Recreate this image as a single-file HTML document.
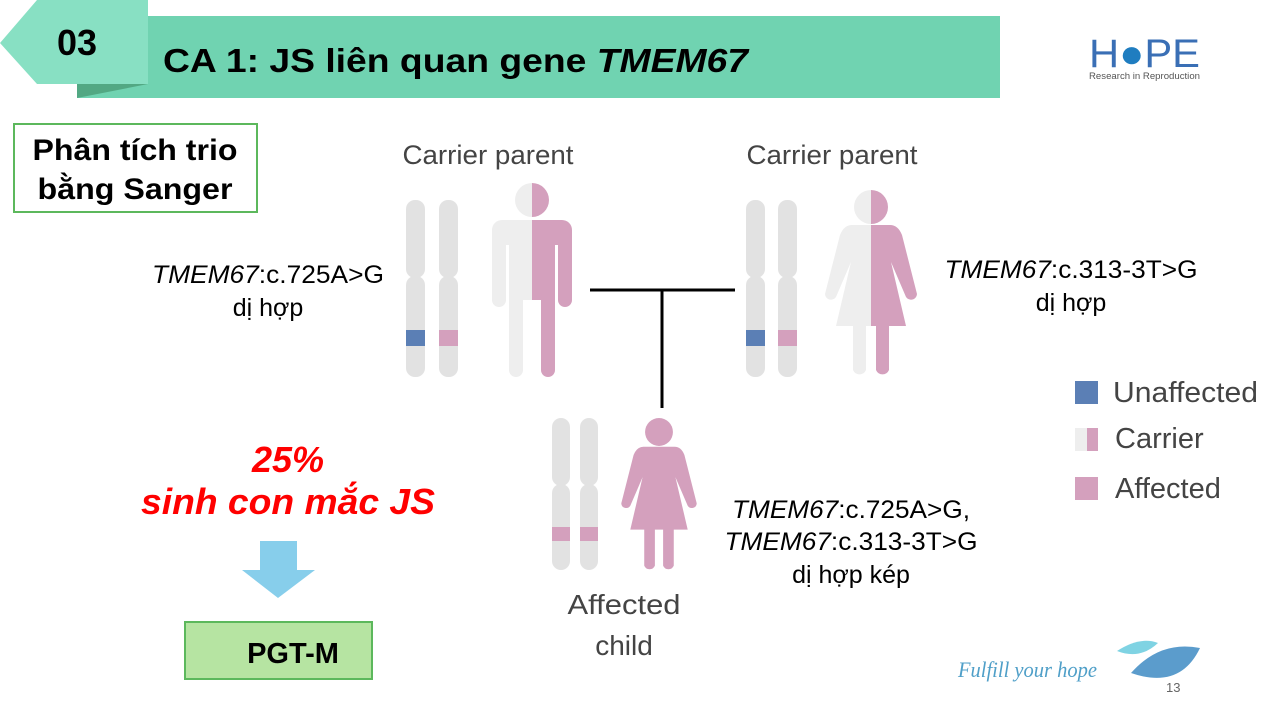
<!DOCTYPE html>
<html><head><meta charset="utf-8"><style>
body{margin:0;width:1280px;height:720px;overflow:hidden;background:#fff;font-family:"Liberation Sans",sans-serif}
svg{position:absolute;left:0;top:0}
</style></head><body>
<svg width="1280" height="720" viewBox="0 0 1280 720" font-family="Liberation Sans, sans-serif">
<rect x="77" y="16" width="923" height="82" fill="#70d3b1"/>
<polygon points="77,84 148,84 77,98" fill="#52a883"/>
<polygon points="0,43 37,0 148,0 148,84 37,84" fill="#88e0c3"/>
<text x="57" y="55" font-size="36" font-weight="bold">03</text>
<text x="163" y="72" font-size="33" font-weight="bold" textLength="585" lengthAdjust="spacingAndGlyphs">CA 1: JS liên quan gene <tspan font-style="italic">TMEM67</tspan></text>
<text x="1089" y="67" font-size="40" fill="#3a6fb5" textLength="111" lengthAdjust="spacingAndGlyphs">H<tspan fill="#1f7dc0">●</tspan>PE</text>
<text x="1089" y="79" font-size="9" fill="#555" textLength="111" lengthAdjust="spacingAndGlyphs">Research in Reproduction</text>

<rect x="14" y="124" width="243" height="88" fill="#fff" stroke="#5cb85c" stroke-width="2"/>
<text x="135" y="160" font-size="30" font-weight="bold" text-anchor="middle" textLength="205" lengthAdjust="spacingAndGlyphs">Phân tích trio</text>
<text x="135" y="199" font-size="30" font-weight="bold" text-anchor="middle" textLength="195" lengthAdjust="spacingAndGlyphs">bằng Sanger</text>

<text x="488" y="164" font-size="27" fill="#444" text-anchor="middle" textLength="171" lengthAdjust="spacingAndGlyphs">Carrier parent</text>
<text x="832" y="164" font-size="27" fill="#444" text-anchor="middle" textLength="171" lengthAdjust="spacingAndGlyphs">Carrier parent</text>

<g fill="#e2e2e2">
<rect x="406" y="200" width="19" height="78" rx="9"/><rect x="406" y="276" width="19" height="101" rx="9"/>
<rect x="439" y="200" width="19" height="78" rx="9"/><rect x="439" y="276" width="19" height="101" rx="9"/>
<rect x="746" y="200" width="19" height="78" rx="9"/><rect x="746" y="276" width="19" height="101" rx="9"/>
<rect x="778" y="200" width="19" height="78" rx="9"/><rect x="778" y="276" width="19" height="101" rx="9"/>
<rect x="552" y="418" width="18" height="68" rx="9"/><rect x="552" y="484" width="18" height="86" rx="9"/>
<rect x="580" y="418" width="18" height="68" rx="9"/><rect x="580" y="484" width="18" height="86" rx="9"/>
</g>
<rect x="406" y="330" width="19" height="16" fill="#5b7fb5"/>
<rect x="439" y="330" width="19" height="16" fill="#d4a0bd"/>
<rect x="746" y="330" width="19" height="16" fill="#5b7fb5"/>
<rect x="778" y="330" width="19" height="16" fill="#d4a0bd"/>
<rect x="552" y="527" width="18" height="14" fill="#d4a0bd"/>
<rect x="580" y="527" width="18" height="14" fill="#d4a0bd"/>

<defs>
<g id="man">
<circle cx="532" cy="200" r="17"/>
<path d="M502,220 H562 a10,10 0 0 1 10,10 V300 a7,7 0 0 1 -14,0 V245 H555 V370 a7,7 0 0 1 -14,0 V300 H523 V370 a7,7 0 0 1 -14,0 V245 H506 V300 a7,7 0 0 1 -14,0 V230 a10,10 0 0 1 10,-10Z"/>
</g>
<g id="woman">
<circle cx="871" cy="207" r="17"/>
<path d="M852,225 H890 Q898,225 902,235 L917,294 a6,6 0 0 1 -11,3 L891,262 L906,326 H889 V370 a7,7 0 0 1 -13,0 V326 H866 V370 a7,7 0 0 1 -13,0 V326 H836 L851,262 L836,297 a6,6 0 0 1 -11,-3 L840,235 Q844,225 852,225Z"/>
</g>
<clipPath id="lm"><rect x="0" y="0" width="532" height="720"/></clipPath>
<clipPath id="rm"><rect x="532" y="0" width="300" height="720"/></clipPath>
<clipPath id="lw"><rect x="0" y="0" width="871" height="720"/></clipPath>
<clipPath id="rw"><rect x="871" y="0" width="300" height="720"/></clipPath>
</defs>
<use href="#man" fill="#eeeeee" clip-path="url(#lm)"/>
<use href="#man" fill="#d4a0bd" clip-path="url(#rm)"/>
<use href="#woman" fill="#eeeeee" clip-path="url(#lw)"/>
<use href="#woman" fill="#d4a0bd" clip-path="url(#rw)"/>
<g fill="#d4a0bd" transform="translate(659,432) scale(0.82) translate(-871,-207)"><use href="#woman"/></g>

<line x1="590" y1="290" x2="735" y2="290" stroke="#000" stroke-width="3"/>
<line x1="662" y1="290" x2="662" y2="408" stroke="#000" stroke-width="3"/>

<g font-size="25">
<text x="268" y="283" text-anchor="middle" textLength="232" lengthAdjust="spacingAndGlyphs"><tspan font-style="italic">TMEM67</tspan>:c.725A&gt;G</text>
<text x="268" y="316" text-anchor="middle">dị hợp</text>
<text x="1071" y="278" text-anchor="middle" textLength="253" lengthAdjust="spacingAndGlyphs"><tspan font-style="italic">TMEM67</tspan>:c.313-3T&gt;G</text>
<text x="1071" y="311" text-anchor="middle">dị hợp</text>
<text x="851" y="518" text-anchor="middle" textLength="238" lengthAdjust="spacingAndGlyphs"><tspan font-style="italic">TMEM67</tspan>:c.725A&gt;G,</text>
<text x="851" y="550" text-anchor="middle" textLength="253" lengthAdjust="spacingAndGlyphs"><tspan font-style="italic">TMEM67</tspan>:c.313-3T&gt;G</text>
<text x="851" y="583" text-anchor="middle">dị hợp kép</text>
</g>
<text x="624" y="614" font-size="28" fill="#444" text-anchor="middle" textLength="113" lengthAdjust="spacingAndGlyphs">Affected</text>
<text x="624" y="655" font-size="28" fill="#444" text-anchor="middle">child</text>

<rect x="1075" y="381" width="23" height="23" fill="#5b7fb5"/>
<rect x="1075" y="428" width="12" height="23" fill="#eeeeee"/>
<rect x="1087" y="428" width="11" height="23" fill="#d4a0bd"/>
<rect x="1075" y="477" width="23" height="23" fill="#d4a0bd"/>
<text x="1113" y="402" font-size="29" fill="#444" textLength="145" lengthAdjust="spacingAndGlyphs">Unaffected</text>
<text x="1115" y="448" font-size="29" fill="#444">Carrier</text>
<text x="1115" y="498" font-size="29" fill="#444">Affected</text>

<text x="288" y="472" font-size="36" font-weight="bold" font-style="italic" fill="#ff0000" text-anchor="middle">25%</text>
<text x="288" y="514" font-size="36" font-weight="bold" font-style="italic" fill="#ff0000" text-anchor="middle" textLength="294" lengthAdjust="spacingAndGlyphs">sinh con mắc JS</text>
<rect x="260" y="541" width="37" height="29" fill="#87ceeb"/>
<polygon points="242,570 315,570 278,598" fill="#87ceeb"/>
<rect x="185" y="622" width="187" height="57" fill="#b6e4a2" stroke="#5cb85c" stroke-width="2"/>
<text x="293" y="663" font-size="29" font-weight="bold" text-anchor="middle">PGT-M</text>

<text x="958" y="677" font-size="22" font-style="italic" fill="#4f9fc8" font-family="Liberation Serif, serif" textLength="139" lengthAdjust="spacingAndGlyphs">Fulfill your hope</text>
<path d="M1117,651 Q1140,636 1158,643 Q1140,660 1117,651Z" fill="#7fd3e3"/>
<path d="M1131,673 Q1160,640 1200,648 Q1180,690 1131,673Z" fill="#5b9ccc"/>
<text x="1166" y="692" font-size="13" fill="#666">13</text>
</svg>
</body></html>
